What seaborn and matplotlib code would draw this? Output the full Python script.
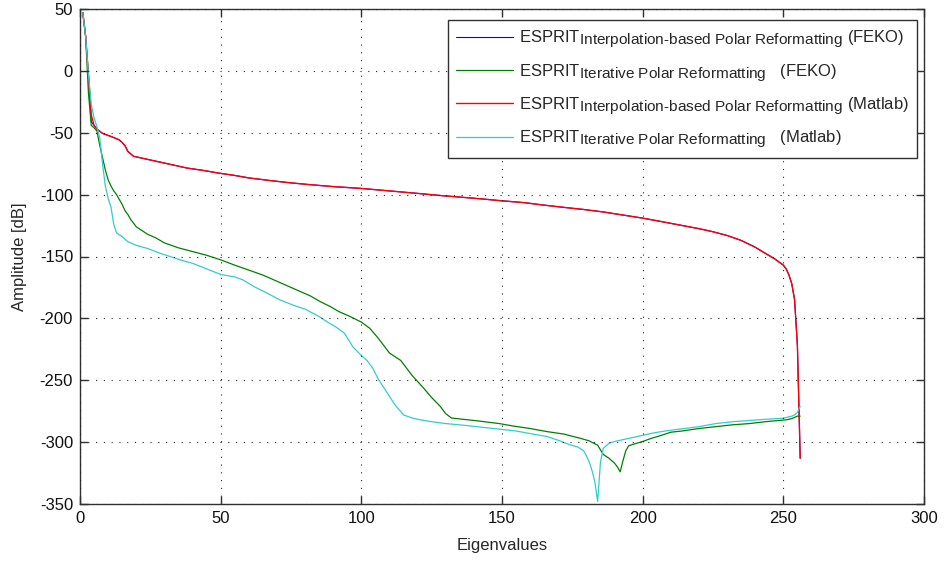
import matplotlib
matplotlib.use("Agg")
import matplotlib.pyplot as plt
import matplotlib._mathtext as _mt
import seaborn as sns
import pandas as pd

# ---------------- data ----------------
interp_feko_x = [1, 2, 3, 4, 5, 6, 8, 11, 14, 15, 16, 17, 19, 22, 24, 28, 32, 38, 44, 49,
                 55, 60, 69, 75, 82, 90, 100, 110, 120, 127, 135, 142, 150, 158, 165, 172,
                 179, 186, 193, 200, 206, 213, 220, 225, 230, 235, 240, 244, 247, 250, 251,
                 252, 253, 254, 255, 256]
interp_feko_y = [47, 28, -3, -41, -44, -47, -50.5, -53, -55.8, -58, -60.5, -65, -69, -70.5,
                 -71.5, -73.5, -75.5, -78.5, -80.5, -82.5, -84.5, -86.5, -89, -90.5, -92,
                 -93.5, -95, -97, -99, -100.5, -102, -103.3, -105, -106.5, -108.5, -110.3,
                 -112, -114, -116.5, -119, -121.5, -124.5, -127.5, -130, -133, -137, -142.5,
                 -148, -152, -157, -160, -165, -172, -185, -222, -313]

iter_feko_x = [1, 2, 3, 4, 5, 6, 7, 8, 9, 10, 11, 12, 13, 14, 15, 16, 17, 18, 19, 20, 22,
               24, 27, 30, 35, 40, 45, 50, 55, 60, 65, 70, 75, 78, 82, 85, 89, 92, 96, 100,
               103, 106, 108, 110, 112, 114, 116, 118, 120, 122, 125, 128, 130, 132, 136,
               142, 149, 154, 160, 166, 172, 178, 181, 184, 186, 188, 190, 191, 192, 193,
               194, 195, 197, 200, 203, 206, 210, 214, 220, 226, 232, 238, 244, 251, 253,
               255, 256]
iter_feko_y = [47, 28, -18, -44, -46, -48.5, -60, -70, -80, -88, -93, -97, -100, -104, -108,
               -113, -116, -120, -123, -126, -129, -132, -135, -139, -143, -146, -149,
               -152.7, -157, -161, -165, -170, -175, -178, -182, -186, -190.5, -194.5,
               -198.5, -203, -208, -216, -222, -228, -231, -234, -240, -246, -251, -256,
               -264, -271, -277, -280.5, -281.5, -283, -285, -287, -289, -291.5, -293.5,
               -297, -299, -302.5, -310, -313, -317, -320, -324, -315, -307, -303, -301.5,
               -299.5, -297, -295, -292, -291, -289, -287.5, -286, -285, -283.4, -282,
               -281, -279, -279]

interp_matlab_x = list(interp_feko_x)
interp_matlab_y = [47, 28, -3, -35.5, -44, -47, -50.5, -53, -55.8, -58, -60.5, -65, -69,
                   -70.5, -71.5, -73.5, -75.5, -78.5, -80.5, -82.5, -84.5, -86.5, -89,
                   -90.5, -92, -93.5, -95, -97, -99, -100.5, -102, -103.3, -105, -106.5,
                   -108.5, -110.3, -112, -114, -116.5, -119, -121.5, -124.5, -127.5, -130,
                   -133, -137, -142.5, -148, -152, -157, -160, -165, -172, -185, -222, -313]

iter_matlab_x = [1, 2, 3, 4, 5, 6, 7, 8, 9, 10, 11, 12, 13, 15, 17, 20, 24, 28, 32, 36, 40,
                 45, 50, 55, 58, 62, 66, 71, 76, 80, 85, 88, 91, 94, 97, 100, 102, 104, 106,
                 108, 110, 112, 115, 118, 121, 125, 130, 137, 143, 149, 155, 161, 166, 170,
                 174, 177, 179, 180, 181, 182, 183, 184, 185, 186, 188, 190, 193, 196, 200,
                 204, 208, 213, 220, 226, 232, 238, 244, 250, 253, 254, 255, 256]
iter_matlab_y = [47, 28, -3, -27, -38, -45, -54, -75, -93, -103, -110, -124, -131, -134,
                 -138, -141, -143.5, -147, -150, -153, -155.5, -160, -164.5, -166.5, -169,
                 -174.5, -179, -185, -189.5, -192.5, -198.5, -203, -207, -212, -223, -230,
                 -234, -240, -249, -256, -263, -270, -278, -280.5, -282, -283.5, -285,
                 -286.5, -288, -289.5, -291, -293.5, -295.5, -298.5, -302, -304, -307,
                 -311, -316, -323, -332, -348, -316, -305, -301, -299.5, -298, -296.5,
                 -294.5, -292.5, -291, -289.5, -287.5, -285, -283.5, -282.5, -281.5,
                 -280.7, -279, -278, -276, -271]

labels = [
    "ESPRIT$_{\\mathrm{Interpolation\u2010based\\ Polar\\ Reformatting}}$ (FEKO)",
    "ESPRIT$_{\\mathrm{Iterative\\ Polar\\ Reformatting}}$   (FEKO)",
    "ESPRIT$_{\\mathrm{Interpolation\u2010based\\ Polar\\ Reformatting}}$ (Matlab)",
    "ESPRIT$_{\\mathrm{Iterative\\ Polar\\ Reformatting}}$   (Matlab)",
]
colors = ["#0000ff", "#008000", "#ff0000", "#33cccc"]
widths = [0.8, 0.9, 1.0, 0.9]
x_ticks = [0, 50, 100, 150, 200, 250, 300]
y_ticks = [-350, -300, -250, -200, -150, -100, -50, 0, 50]

# ---------------- style ----------------
sns.set_theme(style="white")
plt.rcParams["font.family"] = ["Liberation Sans", "DejaVu Sans"]
plt.rcParams["mathtext.fontset"] = "custom"
plt.rcParams["mathtext.rm"] = "Liberation Sans"
plt.rcParams["mathtext.it"] = "Liberation Sans:italic"
plt.rcParams["mathtext.bf"] = "Liberation Sans:bold"
plt.rcParams["axes.unicode_minus"] = False
_mt.SHRINK_FACTOR = 0.92

fig = plt.figure(figsize=(9.44, 5.62), dpi=100)
ax = fig.add_axes([80 / 944, 1 - 504 / 562, 844 / 944, 495 / 562])

series = [
    (interp_feko_x, interp_feko_y),
    (iter_feko_x, iter_feko_y),
    (interp_matlab_x, interp_matlab_y),
    (iter_matlab_x, iter_matlab_y),
]
for (xs, ys), lab, col, lw in zip(series, labels, colors, widths):
    df = pd.DataFrame({"Eigenvalues": xs, "Amplitude": ys})
    sns.lineplot(data=df, x="Eigenvalues", y="Amplitude", ax=ax, color=col,
                 linewidth=lw, label=lab, estimator=None, sort=False)

ax.set_xlim(0, 300)
ax.set_ylim(-350, 50)
ax.set_xticks(x_ticks)
ax.set_yticks(y_ticks)
ax.set_xticklabels([str(t) for t in x_ticks])
ax.set_yticklabels([str(t) for t in y_ticks])
ax.set_xlabel("Eigenvalues", fontsize=12, labelpad=9)
ax.set_ylabel("Amplitude [dB]", fontsize=12, labelpad=9)

axis_col = "#303030"
for s in ax.spines.values():
    s.set_visible(True)
    s.set_color(axis_col)
    s.set_linewidth(1.0)
ax.tick_params(direction="in", length=6, width=1.0, color=axis_col, labelsize=12,
               top=True, right=True, bottom=True, left=True, labelcolor="#111111", pad=5)
ax.grid(True, color="#222222", linestyle=(0, (1, 6)), linewidth=0.8)
ax.set_axisbelow(False)

leg = ax.legend(loc="upper right", bbox_to_anchor=(917 / 944, 1 - 20 / 562),
                bbox_transform=fig.transFigure, borderaxespad=0, fontsize=12,
                frameon=True, fancybox=False, framealpha=1, edgecolor=axis_col,
                handlelength=3.4, handletextpad=0.35, labelspacing=0.68,
                borderpad=0.5)
leg.get_frame().set_linewidth(1.0)

fig.savefig("out.png", dpi=100, facecolor="white")
